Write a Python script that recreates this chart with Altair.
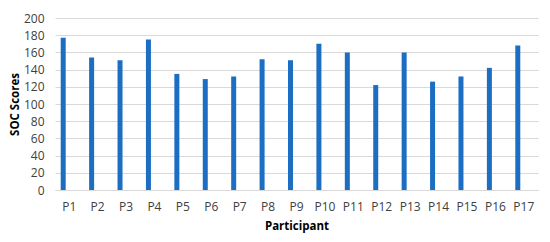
import altair as alt
import pandas as pd

participants = [f"P{i}" for i in range(1, 18)]
scores = [177, 154, 151, 175, 135, 129, 132, 152, 151, 170, 160, 122, 160, 126, 132, 142, 168]

df = pd.DataFrame({"Participant": participants, "SOC": scores})

chart = alt.Chart(df).mark_bar(color="#1b6ec2", size=5, xOffset=-6).encode(
    x=alt.X("Participant:N", sort=participants, title="Participant",
            scale=alt.Scale(paddingInner=0, paddingOuter=0),
            axis=alt.Axis(labelAngle=0, labelColor="#404040", labelFontSize=12,
                          labelFont="Open Sans", ticks=False, labelPadding=11,
                          domainColor="#d9d9d9", titleFont="Open Sans",
                          titleFontSize=11.5, titleFontWeight="bold", titlePadding=8,
                          titleColor="#000000")),
    y=alt.Y("SOC:Q", title="SOC Scores",
            scale=alt.Scale(domain=[0, 200], nice=False),
            axis=alt.Axis(values=list(range(0, 201, 20)), labelColor="#404040",
                          labelFontSize=12, labelFont="Open Sans", ticks=False,
                          labelPadding=11, domain=False, gridColor="#d9d9d9",
                          titleFont="Open Sans", titleFontSize=11.5,
                          titleFontWeight="bold", titlePadding=3,
                          titleColor="#000000")),
).properties(
    width=483, height=172,
    autosize=alt.AutoSizeParams(type="none"),
    padding={"left": 47, "top": 10, "right": 4, "bottom": 44},
).configure_view(stroke=None).configure_axisX(grid=False)

chart.save("out.html", embed_options={"renderer": "svg", "actions": False})
